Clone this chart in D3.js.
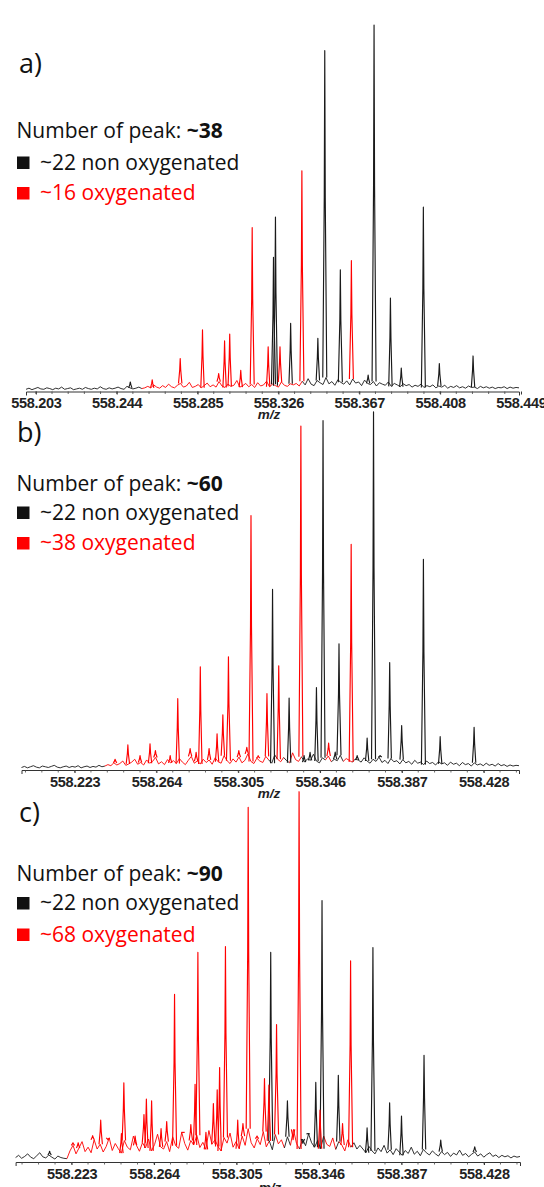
<!DOCTYPE html>
<html>
<head>
<meta charset="utf-8">
<script src="https://cdn.jsdelivr.net/npm/d3@7"></script>
<style>
  body { margin: 0; background: #fff; }
</style>
</head>
<body>
<div id="chart"></div>
<script>
// ---- data (m/z, relative intensity %) ----
const ticksA = [558.203, 558.244, 558.285, 558.326, 558.367, 558.408, 558.449];
const ticksBC = [558.223, 558.264, 558.305, 558.346, 558.387, 558.428];

const titles = ['a)', 'b)', 'c)'];
const totalPeaks = ['~38', '~60', '~90'];
const nonOxyLabels = ['~22 non oxygenated', '~22 non oxygenated', '~22 non oxygenated'];
const oxyLabels = ['~16 oxygenated', '~38 oxygenated', '~68 oxygenated'];

const peaksARed = [
  [558.2620, 3.2], [558.2762, 9.0], [558.2875, 16.8], [558.2957, 4.9], [558.2987, 13.8],
  [558.3013, 15.7], [558.3069, 5.8], [558.3127, 44.7], [558.3208, 12.2], [558.3268, 12.2],
  [558.3379, 60.2], [558.3630, 35.7]
];
const peaksABlack = [
  [558.2509, 2.6], [558.3235, 36.6], [558.3245, 47.6], [558.3322, 18.6], [558.3460, 14.5],
  [558.3495, 93], [558.3574, 33.2], [558.3715, 4.5], [558.3745, 100], [558.3828, 25.5],
  [558.3883, 6.4], [558.3995, 50.3], [558.4076, 7.6], [558.4247, 9.7]
];

const peaksBRed = [
  [558.2433, 3], [558.2497, 7.0], [558.2558, 4], [558.2608, 7.3], [558.2635, 5.4],
  [558.2709, 4], [558.2747, 19.9], [558.2809, 6], [558.2839, 4.9], [558.2860, 28.8],
  [558.2904, 6], [558.2944, 10.1], [558.2973, 15.4], [558.3001, 31.6], [558.3053, 5.4],
  [558.3093, 6.3], [558.3114, 71], [558.3150, 4], [558.3194, 21.3], [558.3253, 29.1],
  [558.3364, 96], [558.3503, 7.5], [558.3616, 63]
];
const peaksBBlack = [
  [558.3222, 50.4], [558.3305, 20.1], [558.3380, 4], [558.3410, 4.9], [558.3442, 23],
  [558.3475, 97.5], [558.3536, 5], [558.3555, 35.2], [558.3646, 4], [558.3696, 8.9],
  [558.3728, 100], [558.3761, 4], [558.3809, 30], [558.3869, 12.4], [558.3978, 58.8],
  [558.4062, 9.3], [558.4232, 11.9]
];

const peaksCRed = [
  [558.2237, 5.2], [558.2263, 5.2], [558.2335, 7.1], [558.2375, 11.3], [558.2411, 6],
  [558.2478, 7.7], [558.2490, 21.4], [558.2546, 7], [558.2590, 12.8], [558.2602, 17],
  [558.2628, 16.5], [558.2675, 9], [558.2703, 10.9], [558.2742, 45.3], [558.2784, 8],
  [558.2823, 10.1], [558.2844, 21], [558.2858, 56.6], [558.2898, 8], [558.2935, 15.8],
  [558.2954, 19.5], [558.2966, 25.5], [558.2995, 58.2], [558.3056, 11.3], [558.3082, 10.4],
  [558.3108, 95.8], [558.3152, 7], [558.3189, 22.5], [558.3211, 20.8], [558.3249, 37.1],
  [558.3331, 6], [558.3361, 100], [558.3465, 14], [558.3577, 10.4], [558.3617, 54.3]
];
const peaksCBlack = [
  [558.2121, 2.9], [558.3220, 56.6], [558.3303, 16.5], [558.3380, 5], [558.3406, 7.7],
  [558.3444, 21.5], [558.3475, 70.6], [558.3556, 23.4], [558.3699, 9.2], [558.3728, 57.9],
  [558.3811, 16], [558.3870, 12.4], [558.3982, 28.8], [558.4065, 5.9], [558.4234, 4.1]
];

// baseline noise, intensity x10, evenly spread over each panel's m/z window
const noiseA = [
  6,9,5,8,11,7,6,10,8,5,9,7,12,6,8,10,5,7,9,6,11,8,6,9,7,13,8,6,10,7,9,12,8,6,14,10,7,9,12,8,10,
  14,10,18,12,9,16,11,20,13,10,17,22,12,15,25,11,14,19,10,16,23,13,18,12,27,15,11,20,14,17,30,12,16,22,13,19,11,24,15,18,28,13,20,16,12,26,17,14,21,18,
  22,15,28,18,35,20,16,30,24,19,38,21,27,17,32,25,20,29,18,34,23,26,16,31,22,19,27,15,24,20,17,26,14,22,18,13,21,16,19,12,
  17,14,20,11,16,13,18,10,15,12,17,9,14,11,16,10,13,9,15,11,12,8,14,10,13,9,12,8,11,10,13,8,12,9,11,10
];
const noiseB = [
  7,10,6,9,12,8,6,11,9,7,10,13,8,6,9,11,7,10,8,12,6,9,11,7,10,8,13,9,11,
  15,12,20,14,18,25,13,17,22,30,16,21,14,28,19,24,35,17,23,15,29,20,26,18,32,22,15,27,38,19,25,17,30,21,28,16,34,23,19,40,26,18,31,22,36,20,27,45,24,18,33,25,21,38,28,19,42,30,23,35,26,20,48,29,24,37,22,31,27,44,25,20,34,28,39,23,30,26,41,24,32,27,22,30,
  28,22,34,25,19,30,24,36,21,27,18,32,23,26,17,29,20,24,16,27,19,22,15,25,18,21,14,23,17,20,13,22,16,19,12,21,15,18,11,20,14,17,12,19,13,16,11,18,12,15,10,14,11,13,12
];
const noiseC = [
  12,18,10,15,22,13,9,17,25,14,11,19,13,8,16,12,10,9,
  30,45,22,38,55,28,40,25,60,35,48,27,42,65,31,50,36,24,58,40,33,70,45,29,52,38,62,30,47,75,41,35,55,28,68,44,37,80,50,32,58,46,72,39,53,34,85,48,60,42,30,66,51,78,40,55,36,70,45,90,52,38,63,47,82,41,57,33,74,49,60,38,68,45,88,50,35,62,44,76,52,40,58,36,70,48,42,65,34,55,46,30,60,40,52,35,45,
  35,25,42,30,22,38,28,45,24,33,20,36,27,18,31,23,40,21,29,17,34,25,19,30,22,16,28,20,26,15,24,19,32,18,23,14,21,27,16,22,13,20,25,15,19,12,18,14,17,11,16,13,15
];

// m/z windows drawn in red (oxygenated part of the trace)
const redSpansA = [[558.2580, 558.3389]];
const redSpansB = [[558.2387, 558.3210], [558.3255, 558.3290], [558.3320, 558.3375], [558.3495, 558.3520], [558.3586, 558.3627]];
const redSpansC = [[558.2211, 558.3214], [558.3246, 558.3291], [558.3321, 558.3376], [558.3490, 558.3545], [558.3569, 558.3630]];

// ---- layout ----
const width = 544
    , height = 1187
    , redColor = '#ff0000'
    , blackColor = '#1a1a1a'
    , textFont = '"Open Sans", "Noto Sans", sans-serif'
    , axisFont = '"Liberation Sans", Arial, sans-serif'
    ;

const panels = [
  { ticks: ticksA, red: peaksARed, black: peaksABlack, noise: noiseA, spans: redSpansA,
    extent: [558.198, 558.448], xr: [26, 519], y0: 391.5, y100: 25,
    titleX: 19, titleY: 73, legY: [138, 169.5, 200], tickY: 407.5, mzX: 269, mzY: 419 },
  { ticks: ticksBC, red: peaksBRed, black: peaksBBlack, noise: noiseB, spans: redSpansB,
    extent: [558.1964, 558.4457], xr: [21.5, 519], y0: 770, y100: 411.7,
    titleX: 17, titleY: 442, legY: [490.5, 519.5, 550], tickY: 786.5, mzX: 269, mzY: 798 },
  { ticks: ticksBC, red: peaksCRed, black: peaksCBlack, noise: noiseC, spans: redSpansC,
    extent: [558.1952, 558.4459], xr: [15.6, 520], y0: 1162, y100: 791.7,
    titleX: 19, titleY: 822, legY: [880.5, 910, 941.5], tickY: 1179, mzX: 270, mzY: 1192 }
];

const svg = d3.select('#chart')
  .append('svg')
  .attr('width', width)
  .attr('height', height)
  .style('display', 'block')
  .style('background', '#fff')
  ;

panels.forEach((p, pi) => {
  const x = d3.scaleLinear().domain(p.extent).range(p.xr);
  const y = d3.scaleLinear().domain([0, 100]).range([p.y0, p.y100]);
  const g = svg.append('g');

  const inRed = mz => p.spans.some(s => mz >= s[0] && mz <= s[1]);
  const step = (p.extent[1] - p.extent[0]) / (p.noise.length - 1);
  const pts = p.noise.map((v, i) => ({ mz: p.extent[0] + i * step, v: v / 10 }));

  // split the baseline into runs of one colour
  const runs = [];
  let cur = null;
  pts.forEach(d => {
    const c = inRed(d.mz) ? redColor : blackColor;
    if (!cur || cur.c !== c) {
      cur = { c, pts: cur ? [cur.pts[cur.pts.length - 1]] : [] };
      runs.push(cur);
    }
    cur.pts.push(d);
  });

  const line = d3.line().x(d => x(d.mz)).y(d => y(d.v));

  // axis
  const axis = g.append('g')
    .attr('transform', `translate(0,${p.y0})`)
    .call(d3.axisBottom(x)
      .tickValues(p.ticks)
      .tickFormat(d3.format('.3f'))
      .tickSize(3)
      .tickSizeOuter(4));
  axis.select('.domain').attr('stroke', '#333').attr('stroke-width', 1);
  axis.selectAll('.tick line').attr('stroke', '#333');
  axis.selectAll('.tick text')
    .attr('y', p.tickY - p.y0)
    .attr('dy', null)
    .attr('fill', '#222')
    .style('letter-spacing', '-0.3px')
    .style('font', `bold 14.5px ${axisFont}`);

  const minorStep = (p.ticks[1] - p.ticks[0]) / 5;
  const minor = d3.range(-10, p.ticks.length * 5 + 10)
    .map(k => p.ticks[0] + k * minorStep)
    .filter(v => v > p.extent[0] && v < p.extent[1]);
  g.append('g')
    .selectAll('line')
    .data(minor)
    .join('line')
      .attr('x1', d => x(d)).attr('x2', d => x(d))
      .attr('y1', p.y0).attr('y2', p.y0 + 2.5)
      .attr('stroke', '#444')
      .attr('stroke-width', 0.8);

  g.append('text')
    .attr('x', p.mzX)
    .attr('y', p.mzY)
    .attr('text-anchor', 'middle')
    .attr('fill', '#222')
    .style('font', `italic bold 13.5px ${axisFont}`)
    .text('m/z');

  // baseline trace
  g.append('g')
    .selectAll('path')
    .data(runs)
    .join('path')
      .attr('d', r => line(r.pts))
      .attr('fill', 'none')
      .attr('stroke', r => r.c)
      .attr('stroke-width', 0.9)
      .attr('stroke-linejoin', 'round');

  // peaks
  const peaks = p.red.map(d => ({ mz: d[0], h: d[1], c: redColor }))
    .concat(p.black.map(d => ({ mz: d[0], h: d[1], c: blackColor })))
    .sort((a, b) => b.h - a.h);

  const peakPath = d => {
    const px = x(d.mz);
    const idx = Math.max(0, Math.min(pts.length - 1, Math.round((d.mz - p.extent[0]) / step)));
    const b = pts[idx].v;
    const w = d.h > 30 ? 2 : 1.7;
    return d3.line()([
      [px - w, y(b)],
      [px - 0.5, y(b + (d.h - b) * 0.55)],
      [px, y(d.h)],
      [px + 0.5, y(b + (d.h - b) * 0.55)],
      [px + w, y(b)]
    ]);
  };

  g.append('g')
    .selectAll('path')
    .data(peaks)
    .join('path')
      .attr('d', peakPath)
      .attr('fill', 'none')
      .attr('stroke', d => d.c)
      .attr('stroke-width', 1.15)
      .attr('stroke-linejoin', 'round');

  // panel letter and legend
  g.append('text')
    .attr('x', p.titleX)
    .attr('y', p.titleY)
    .attr('fill', '#111')
    .style('font', `27px ${textFont}`)
    .text(titles[pi]);

  const lead = g.append('text')
    .attr('x', 16.5)
    .attr('y', p.legY[0])
    .attr('fill', '#111')
    .style('font', `21px ${textFont}`);
  lead.append('tspan').text('Number of peak: ');
  lead.append('tspan').attr('font-weight', 'bold').text(totalPeaks[pi]);

  [[nonOxyLabels[pi], blackColor], [oxyLabels[pi], redColor]].forEach((row, ri) => {
    const by = p.legY[ri + 1];
    g.append('rect')
      .attr('x', 17)
      .attr('y', by - 13)
      .attr('width', 12.5)
      .attr('height', 12.5)
      .attr('fill', row[1] === redColor ? redColor : '#111');
    g.append('text')
      .attr('x', 40)
      .attr('y', by)
      .attr('fill', row[1] === redColor ? redColor : '#111')
      .style('font', `21px ${textFont}`)
      .text(row[0]);
  });
});
</script>
</body>
</html>
